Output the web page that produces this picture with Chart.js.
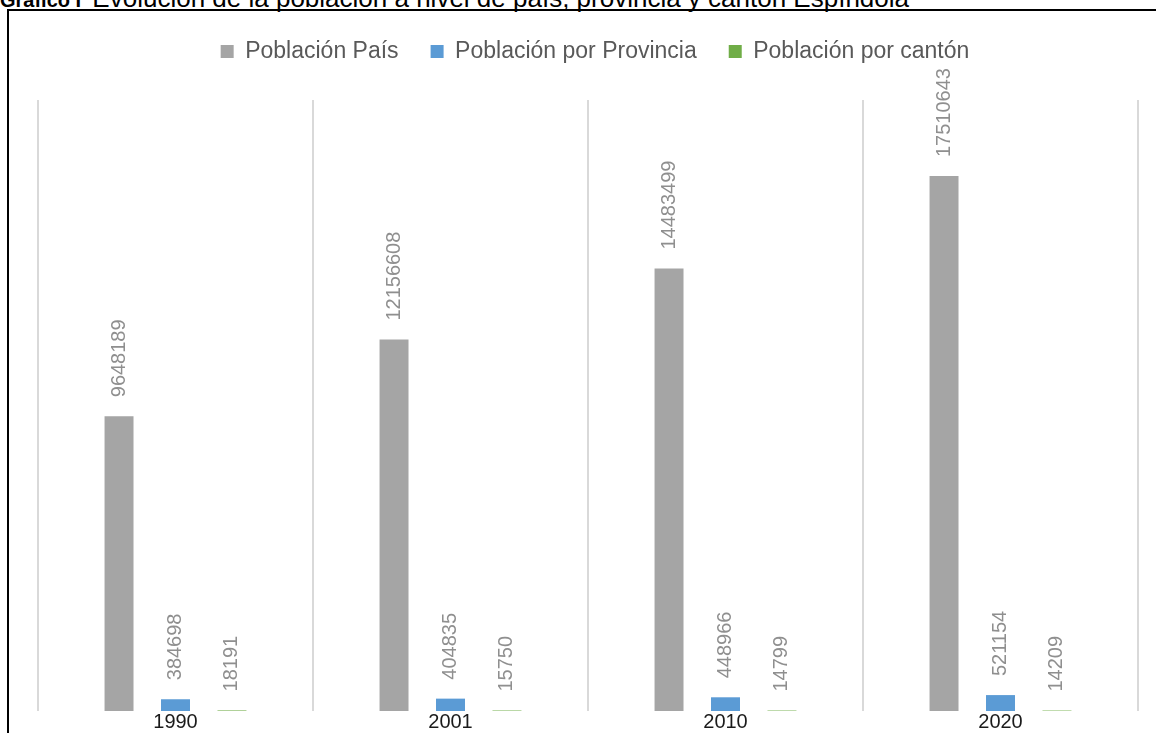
<!DOCTYPE html>
<html lang="es">
<head>
<meta charset="UTF-8" />
<title>Gráfico I</title>
<style>
  body {
    margin: 0;
    background: #fff;
    width: 1156px;
    height: 733px;
    overflow: hidden;
    position: relative;
    font-family: 'Liberation Sans', Arial, sans-serif;
  }
  #titulo {
    position: absolute;
    left: 0;
    top: -15px;
    font-size: 26px;
    line-height: 26px;
    color: #000;
    white-space: nowrap;
  }
  #titulo b { font-size: 20px; margin-right: 4px; }
  #marco {
    position: absolute;
    left: 7px;
    top: 9px;
    width: 1200px;
    height: 800px;
    border-left: 2px solid #000;
    border-top: 2px solid #000;
  }
  #chartBox {
    position: absolute;
    left: 0;
    top: 0;
    width: 1156px;
    height: 733px;
  }
</style>
<script src="https://cdn.jsdelivr.net/npm/chart.js"></script>
</head>
<body>

<div id="titulo"><b>Gráfico I</b> Evolución de la población a nivel de país, provincia y cantón Espíndola</div>
<div id="marco"></div>
<div id="chartBox">
  <canvas id="grafico"></canvas>
</div>

<script>
  const anios = ['1990', '2001', '2010', '2020'];
  const poblacionPais = [9648189, 12156608, 14483499, 17510643];
  const poblacionProvincia = [384698, 404835, 448966, 521154];
  const poblacionCanton = [18191, 15750, 14799, 14209];

  // etiquetas de valor giradas sobre cada barra
  const etiquetas = {
    id: 'etiquetas',
    afterDatasetsDraw(chart) {
      const ctx = chart.ctx;
      ctx.save();
      ctx.font = '20px "Liberation Sans", Arial, sans-serif';
      ctx.fillStyle = '#8f8f8f';
      ctx.textAlign = 'left';
      ctx.textBaseline = 'middle';
      chart.data.datasets.forEach((ds, i) => {
        chart.getDatasetMeta(i).data.forEach((bar, j) => {
          ctx.save();
          ctx.translate(bar.x, bar.y - 19);
          ctx.rotate(-Math.PI / 2);
          ctx.fillText(String(ds.data[j]), 0, 0);
          ctx.restore();
        });
      });
      ctx.restore();
    }
  };

  // espacio extra debajo de la leyenda y pequeño corrimiento a la derecha
  const espacioLeyenda = {
    id: 'espacioLeyenda',
    beforeInit(chart) {
      const fitOriginal = chart.legend.fit;
      chart.legend.fit = function () {
        fitOriginal.bind(chart.legend)();
        this.height += 27;
      };
    },
    afterLayout(chart) {
      chart.legend.left += 7;
      chart.legend.right += 7;
    }
  };

  const ctx = document.getElementById('grafico').getContext('2d');
  const chart = new Chart(ctx, {
    type: 'bar',
    data: {
      labels: anios,
      datasets: [
        { label: 'Población País', data: poblacionPais, backgroundColor: '#a5a5a5' },
        { label: 'Población por Provincia', data: poblacionProvincia, backgroundColor: '#5b9bd5' },
        { label: 'Población por cantón', data: poblacionCanton, backgroundColor: '#70ad47' }
      ]
    },
    options: {
      responsive: true,
      maintainAspectRatio: false,
      animation: false,
      categoryPercentage: 0.616,
      barPercentage: 0.513,
      layout: { padding: { left: 38, right: 18, top: 8, bottom: 0 } },
      scales: {
        x: {
          grid: { color: '#d9d9d9', lineWidth: 2, drawTicks: false, offset: true },
          border: { display: false },
          ticks: {
            color: '#1a1a1a',
            font: { size: 20, lineHeight: 1.1, family: '"Liberation Sans", Arial, sans-serif' },
            padding: 0
          }
        },
        y: {
          display: false,
          min: 0,
          max: 20000000
        }
      },
      plugins: {
        legend: {
          position: 'top',
          labels: {
            color: '#595959',
            boxWidth: 13,
            boxHeight: 13,
            padding: 32,
            font: { size: 23, family: '"Liberation Sans", Arial, sans-serif' }
          }
        },
        tooltip: { enabled: false }
      }
    },
    plugins: [etiquetas, espacioLeyenda]
  });
</script>

</body>
</html>
